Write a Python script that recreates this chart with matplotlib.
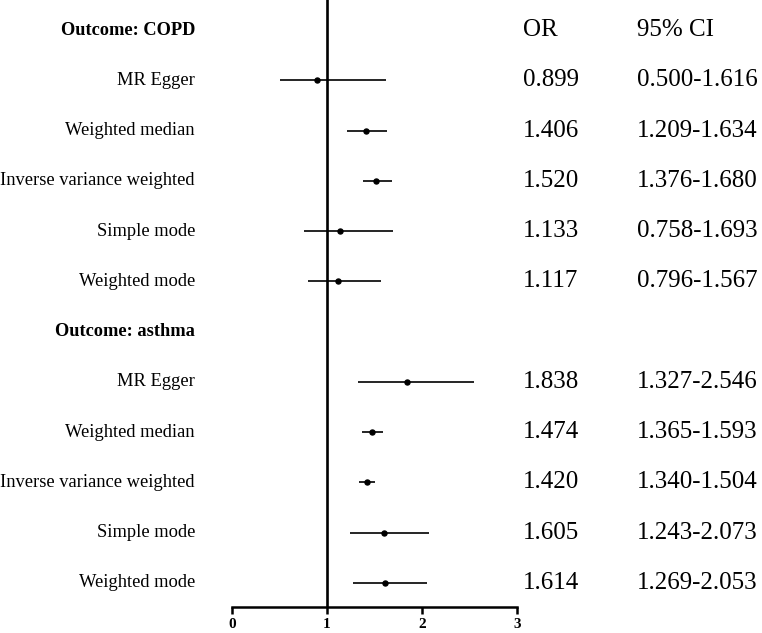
import matplotlib
matplotlib.use("Agg")
import matplotlib.pyplot as plt

headers = ["Outcome: COPD", "Outcome: asthma"]
methods = ["MR Egger", "Weighted median", "Inverse variance weighted",
           "Simple mode", "Weighted mode"]
copd_or = [0.899, 1.406, 1.520, 1.133, 1.117]
copd_lo = [0.500, 1.209, 1.376, 0.758, 0.796]
copd_hi = [1.616, 1.634, 1.680, 1.693, 1.567]
asthma_or = [1.838, 1.474, 1.420, 1.605, 1.614]
asthma_lo = [1.327, 1.365, 1.340, 1.243, 1.269]
asthma_hi = [2.546, 1.593, 1.504, 2.073, 2.053]
xticks = [0, 1, 2, 3]

plt.rcParams['font.family'] = ['Liberation Serif', 'DejaVu Serif']

fig = plt.figure(figsize=(7.62, 6.33), dpi=100)
ax = fig.add_axes([232/762, 1-607/633, (517-232)/762, 607/633])

groups = [(headers[0], copd_or, copd_lo, copd_hi),
          (headers[1], asthma_or, asthma_lo, asthma_hi)]

row = 0
for head, ors, los, his in groups:
    ax.text(-0.39, row, head, ha='right', va='center', fontsize=13.2, fontweight='bold')
    row += 1
    for m, o, lo, hi in zip(methods, ors, los, his):
        ax.plot([lo, hi], [row, row], color='black', lw=1.2, solid_capstyle='butt')
        ax.plot([o], [row], 'o', color='black', ms=3.6)
        ax.text(-0.39, row, m, ha='right', va='center', fontsize=13.3)
        ax.text(3.06, row, f"{o:.3f}", ha='left', va='center', fontsize=18)
        ax.text(4.26, row, f"{lo:.3f}-{hi:.3f}", ha='left', va='center', fontsize=18)
        row += 1

ax.text(3.06, 0, "OR", ha='left', va='center', fontsize=18)
ax.text(4.26, 0, "95% CI", ha='left', va='center', fontsize=18)

ax.axvline(1, color='black', lw=1.9)

ax.set_xlim(0, 3)
ax.set_ylim(11 + 24/50.27, -30/50.27)
ax.set_xticks(xticks)
ax.set_xticklabels([str(t) for t in xticks], fontweight='bold', fontsize=11)
ax.set_yticks([])
for s in ['left', 'right', 'top']:
    ax.spines[s].set_visible(False)
ax.spines['bottom'].set_linewidth(1.8)
ax.tick_params(axis='x', length=5, width=1.8, pad=3)

fig.savefig("out.png", dpi=100)
